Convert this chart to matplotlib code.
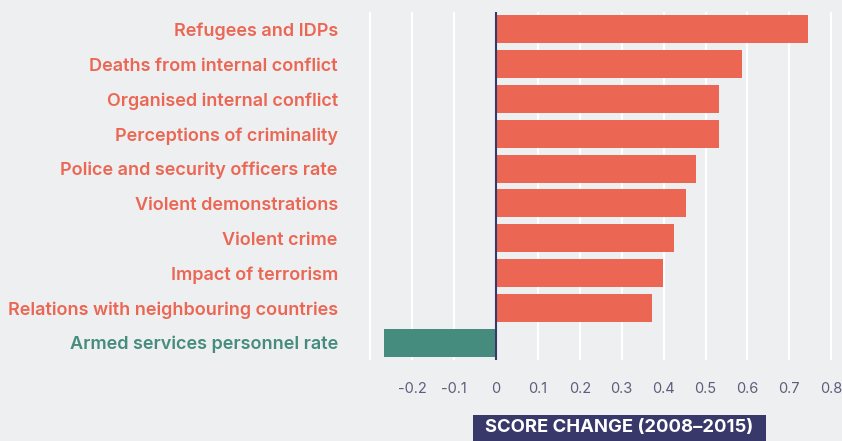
import matplotlib
matplotlib.use("Agg")
import matplotlib.pyplot as plt
from matplotlib.patches import Rectangle

categories = ["Refugees and IDPs", "Deaths from internal conflict", "Organised internal conflict",
              "Perceptions of criminality", "Police and security officers rate", "Violent demonstrations",
              "Violent crime", "Impact of terrorism", "Relations with neighbouring countries",
              "Armed services personnel rate"]
values = [0.745, 0.586, 0.532, 0.532, 0.477, 0.453, 0.426, 0.399, 0.372, -0.267]
xticks = [-0.2, -0.1, 0, 0.1, 0.2, 0.3, 0.4, 0.5, 0.6, 0.7, 0.8]
xticklabels = ["-0.2", "-0.1", "0", "0.1", "0.2", "0.3", "0.4", "0.5", "0.6", "0.7", "0.8"]
gridlines = [-0.3, -0.2, -0.1, 0.1, 0.2, 0.3, 0.4, 0.5, 0.6, 0.7, 0.8]
axis_title = "SCORE CHANGE (2008–2015)"

bg = "#EEEFF1"
red = "#EB6754"
green = "#468C7E"
navy = "#38386A"

plt.rcParams['font.family'] = ['Inter', 'DejaVu Sans']

W, H = 842, 441
fig = plt.figure(figsize=(W / 100, H / 100), dpi=100)
fig.patch.set_facecolor(bg)
ax = fig.add_axes([360 / W, 1 - 360 / H, (842 - 360) / W, (360 - 12) / H])
ax.set_facecolor(bg)

ypos = list(range(len(categories)))
colors = [green if v < 0 else red for v in values]
for g in gridlines:
    ax.axvline(g, color="white", lw=1.6, zorder=0)
ax.barh(ypos, values, height=0.81, color=colors, zorder=2)
ax.axvline(0, color=navy, lw=1.5, zorder=3)

ax.set_xlim((360 - 496) / 419, (842 - 496) / 419)
ax.set_ylim(len(categories) - 0.5, -0.5)
for s in ax.spines.values():
    s.set_visible(False)

ax.set_yticks(ypos)
ax.set_yticklabels(categories, fontsize=13, fontweight='semibold')
for lbl, c in zip(ax.get_yticklabels(), colors):
    lbl.set_color(c)
ax.tick_params(axis='y', length=0, pad=16)

ax.set_xticks(xticks)
ax.set_xticklabels(xticklabels, fontsize=10.5, color="#5E5E7C")
ax.tick_params(axis='x', length=0, pad=16)

fig.patches.append(Rectangle((473 / W, 0), (766 - 473) / W, 26 / H, transform=fig.transFigure,
                             facecolor=navy, edgecolor='none'))
fig.text((473 + 766) / 2 / W, 13 / H, axis_title, ha='center', va='center', color='white',
         fontsize=13.3, fontweight='bold')

fig.savefig("out.png", dpi=100, facecolor=bg)
